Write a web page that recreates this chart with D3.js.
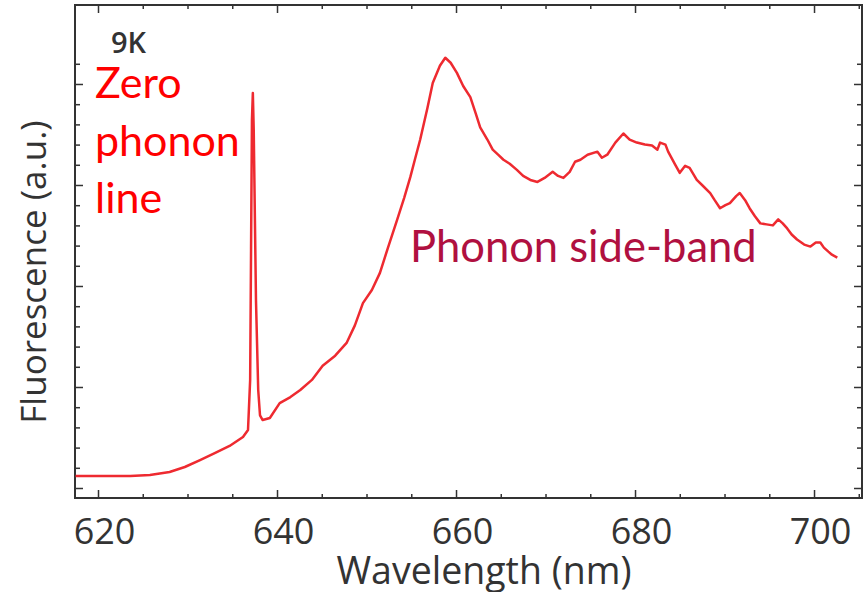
<!DOCTYPE html>
<html>
<head>
<style>
  body { margin: 0; background: #fff; }
  svg text { font-family: "Open Sans", sans-serif; }
</style>
</head>
<body>
<div id="chart"></div>
<script src="https://cdn.jsdelivr.net/npm/d3@7"></script>
<script>
// spectrum (nm, arbitrary units)
const wavelength = [617.5, 620.2, 623.6, 625.8, 628.0, 629.7, 631.4, 633.1, 634.7, 636.2, 636.76,
  637.0, 637.1, 637.2, 637.3, 637.4, 637.65, 637.9, 638.1, 638.4, 639.2, 640.3, 641.5, 642.6,
  643.9, 645.1, 646.5, 647.8, 648.7, 649.6, 650.6, 651.5, 652.4, 653.4, 654.2, 654.9, 655.4,
  656.0, 656.8, 657.4, 658.2, 658.8, 659.4, 660.1, 660.8, 661.6, 662.2, 662.7, 663.5, 664.1,
  664.7, 665.3, 666.0, 666.8, 667.5, 668.3, 669.1, 669.9, 670.8, 671.4, 672.0, 672.7, 673.3,
  673.9, 674.7, 675.8, 676.3, 676.9, 677.8, 678.7, 679.4, 680.2, 681.1, 681.9, 682.5, 682.8,
  683.4, 683.7, 684.5, 685.0, 685.6, 686.1, 686.9, 687.6, 688.4, 688.9, 689.5, 690.1, 690.6,
  691.3, 691.7, 692.3, 692.8, 693.4, 694.0, 694.7, 695.4, 696.0, 696.5, 697.0, 697.5, 698.1,
  698.9, 699.6, 700.2, 700.7, 701.1, 701.6, 702.0, 702.6];
const fluorescence = [0.119, 0.119, 0.119, 0.129, 0.158, 0.208, 0.277, 0.347, 0.416, 0.505, 0.574,
  1.07, 2.36, 3.64, 3.91, 3.54, 1.86, 0.97, 0.72, 0.673, 0.693, 0.84, 0.90, 0.97,
  1.07, 1.21, 1.31, 1.44, 1.61, 1.83, 1.96, 2.13, 2.38, 2.65, 2.87, 3.08, 3.25,
  3.45, 3.76, 4.01, 4.18, 4.26, 4.21, 4.11, 3.98, 3.87, 3.71, 3.57, 3.45, 3.35,
  3.30, 3.25, 3.21, 3.15, 3.09, 3.05, 3.03, 3.07, 3.13, 3.09, 3.07, 3.13, 3.23,
  3.25, 3.30, 3.33, 3.27, 3.30, 3.42, 3.51, 3.45, 3.42, 3.40, 3.39, 3.35, 3.42,
  3.40, 3.33, 3.20, 3.12, 3.19, 3.17, 3.05, 2.99, 2.92, 2.85, 2.77, 2.80, 2.82,
  2.89, 2.92, 2.85, 2.77, 2.69, 2.62, 2.61, 2.60, 2.66, 2.62, 2.57, 2.51, 2.46,
  2.41, 2.39, 2.43, 2.43, 2.38, 2.34, 2.31, 2.28];

const xMajor = [620, 640, 660, 680, 700];
const xMinor = [625, 630, 635, 645, 650, 655, 665, 670, 675, 685, 690, 695, 705];
const yMajor = [0, 1, 2, 3, 4];
const yMinor = [0.2, 0.4, 0.6, 0.8, 1.2, 1.4, 1.6, 1.8, 2.2, 2.4, 2.6, 2.8, 3.2, 3.4, 3.6, 3.8, 4.2];

const W = 865, H = 592;
const mLeft = 75, mRight = 862, mTop = 5, mBottom = 498;

const svg = d3.select("#chart").append("svg")
  .attr("width", W).attr("height", H);

const x = d3.scaleLinear().domain([617.43, 705.36]).range([mLeft, mRight]);
const y = d3.scaleLinear().domain([-0.099, 4.782]).range([mBottom, mTop]);

const axisCol = "#333";

function styleAxis(g) {
  g.select(".domain").remove();
  g.selectAll("line").attr("stroke", axisCol).attr("stroke-width", 1.5);
}

// bottom axis with labels
svg.append("g")
  .attr("transform", `translate(0,${mBottom})`)
  .call(d3.axisBottom(x).tickValues(xMajor).tickSize(-8).tickPadding(20).tickFormat(d3.format("d")))
  .call(styleAxis)
  .call(g => g.selectAll("text")
    .attr("dx", 6)
    .attr("fill", "#333")
    .style("font-size", "36px"));
svg.append("g")
  .attr("transform", `translate(0,${mBottom})`)
  .call(d3.axisBottom(x).tickValues(xMinor).tickSize(-4).tickFormat(""))
  .call(styleAxis);

// top axis
svg.append("g")
  .attr("transform", `translate(0,${mTop})`)
  .call(d3.axisTop(x).tickValues(xMajor).tickSize(-8).tickFormat(""))
  .call(styleAxis);
svg.append("g")
  .attr("transform", `translate(0,${mTop})`)
  .call(d3.axisTop(x).tickValues(xMinor).tickSize(-4).tickFormat(""))
  .call(styleAxis);

// left / right axes, no labels
[[d3.axisLeft, mLeft], [d3.axisRight, mRight]].forEach(([ax, pos]) => {
  svg.append("g")
    .attr("transform", `translate(${pos},0)`)
    .call(ax(y).tickValues(yMajor).tickSize(-8).tickFormat(""))
    .call(styleAxis);
  svg.append("g")
    .attr("transform", `translate(${pos},0)`)
    .call(ax(y).tickValues(yMinor).tickSize(-5).tickFormat(""))
    .call(styleAxis);
});

// frame
svg.append("rect")
  .attr("x", mLeft).attr("y", mTop)
  .attr("width", mRight - mLeft).attr("height", mBottom - mTop)
  .attr("fill", "none").attr("stroke", axisCol).attr("stroke-width", 2);

// spectrum
const pts = wavelength.map((w, i) => [w, fluorescence[i]]);
svg.append("path")
  .datum(pts)
  .attr("fill", "none")
  .attr("stroke", "#ee2a30")
  .attr("stroke-width", 2.5)
  .attr("stroke-linejoin", "round")
  .attr("d", d3.line().x(d => x(d[0])).y(d => y(d[1])));

// axis titles
svg.append("text")
  .attr("x", 484).attr("y", 584)
  .attr("text-anchor", "middle")
  .attr("fill", "#333")
  .style("font-size", "37.5px")
  .text("Wavelength (nm)");

svg.append("text")
  .attr("transform", "translate(46,272) rotate(-90)")
  .attr("text-anchor", "middle")
  .attr("fill", "#333")
  .style("font-size", "35px")
  .text("Fluorescence (a.u.)");

// annotations
svg.append("text")
  .attr("x", 111).attr("y", 53)
  .attr("fill", "#333")
  .style("font-size", "29px")
  .style("font-weight", "600")
  .text("9K");

const zpl = svg.append("text")
  .attr("fill", "#ff0000")
  .style("font-family", "Lato, sans-serif")
  .style("font-size", "43px");
["Zero", "phonon", "line"].forEach((t, i) => {
  zpl.append("tspan").attr("x", 95).attr("y", 98 + i * 57.5).text(t);
});

svg.append("text")
  .attr("x", 410).attr("y", 262)
  .attr("fill", "#b01040")
  .style("font-family", "Lato, sans-serif")
  .style("font-size", "43.5px")
  .text("Phonon side-band");
</script>
</body>
</html>
